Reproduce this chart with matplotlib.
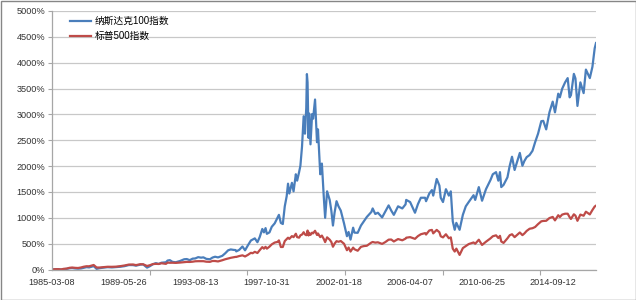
import pandas as pd
import matplotlib
matplotlib.use('Agg')
import matplotlib.pyplot as plt
from matplotlib.patches import Rectangle

plt.rcParams['font.family'] = ['Liberation Sans', 'Noto Sans CJK SC', 'DejaVu Sans']

# ─── 数据 (从图上读取, 累计涨幅 %) ─────────────────────────────────────
dates = [
    '1985-03-08', '1985-05-17', '1985-07-19', '1985-09-20', '1985-11-15',
    '1986-01-17', '1986-03-21', '1986-05-16', '1986-07-18', '1986-09-19', '1986-11-21',
    '1987-01-16', '1987-03-20', '1987-05-15', '1987-08-21', '1987-10-23', '1987-12-18',
    '1988-03-18', '1988-06-17', '1988-09-16', '1988-12-16',
    '1989-03-17', '1989-06-16', '1989-09-15', '1989-12-15',
    '1990-02-16', '1990-05-18', '1990-07-20', '1990-10-12', '1990-12-14',
    '1991-02-15', '1991-04-19', '1991-06-21', '1991-08-16', '1991-11-22', '1991-12-27',
    '1992-02-14', '1992-04-10', '1992-06-19', '1992-09-18', '1992-12-18',
    '1993-02-12', '1993-04-16', '1993-06-18', '1993-08-13', '1993-10-15', '1993-12-17',
    '1994-02-04', '1994-04-08', '1994-06-24', '1994-08-19', '1994-10-14', '1994-12-16',
    '1995-03-17', '1995-05-19', '1995-07-21', '1995-09-15', '1995-11-17', '1995-12-29',
    '1996-01-12', '1996-03-15', '1996-05-24', '1996-07-19', '1996-09-20', '1996-11-22', '1996-12-27',
    '1997-02-14', '1997-04-11', '1997-05-30', '1997-07-25', '1997-08-29', '1997-10-03', '1997-10-31', '1997-12-26',
    '1998-02-13', '1998-04-17', '1998-06-19', '1998-07-17', '1998-08-28', '1998-10-09', '1998-11-20', '1998-12-31',
    '1999-01-29', '1999-02-26', '1999-04-23', '1999-05-28', '1999-07-16', '1999-08-13', '1999-09-24',
    '1999-10-22', '1999-11-26', '1999-12-31',
    '2000-01-28', '2000-02-25', '2000-03-10', '2000-03-24', '2000-04-14', '2000-04-28', '2000-05-26',
    '2000-06-30', '2000-07-21', '2000-09-01', '2000-10-13', '2000-11-03', '2000-12-22',
    '2001-01-26', '2001-03-09', '2001-04-06', '2001-05-18', '2001-07-13', '2001-08-17', '2001-09-21',
    '2001-10-26', '2001-12-07',
    '2002-01-18', '2002-03-08', '2002-05-17', '2002-07-19', '2002-08-23', '2002-10-04', '2002-11-29', '2002-12-27',
    '2003-03-07', '2003-05-16', '2003-07-18', '2003-09-19', '2003-12-26',
    '2004-01-23', '2004-03-19', '2004-05-14', '2004-08-13', '2004-10-22', '2004-12-31',
    '2005-02-25', '2005-04-22', '2005-07-22', '2005-10-21', '2005-12-30',
    '2006-01-13', '2006-04-07', '2006-07-21', '2006-09-22', '2006-11-24',
    '2007-02-23', '2007-03-16', '2007-05-25', '2007-07-20', '2007-08-17', '2007-10-31', '2007-12-28',
    '2008-01-25', '2008-03-14', '2008-05-16', '2008-07-18', '2008-08-29', '2008-10-10', '2008-11-21', '2008-12-26',
    '2009-03-06', '2009-05-15', '2009-07-17', '2009-09-18', '2009-12-31',
    '2010-02-05', '2010-04-23', '2010-07-02', '2010-09-24', '2010-12-31',
    '2011-02-18', '2011-04-29', '2011-06-17', '2011-07-22', '2011-08-19', '2011-10-07', '2011-12-30',
    '2012-02-17', '2012-04-06', '2012-06-01', '2012-09-21', '2012-11-16', '2012-12-28',
    '2013-02-15', '2013-04-19', '2013-06-21', '2013-08-16', '2013-10-18', '2013-12-27',
    '2014-02-07', '2014-04-11', '2014-06-20', '2014-08-29', '2014-10-17', '2014-12-26',
    '2015-01-30', '2015-03-20', '2015-05-22', '2015-07-17', '2015-08-28', '2015-09-25', '2015-11-27', '2015-12-31',
    '2016-02-12', '2016-04-15', '2016-06-24', '2016-08-12', '2016-11-04', '2016-12-30',
    '2017-02-17', '2017-03-17',
]

ndx_pct = [
    0, 3, 7, -2, 6,
    12, 24, 28, 20, 16, 20,
    32, 45, 40, 65, 12, 24,
    36, 45, 40, 46,
    53, 65, 86, 85,
    74, 94, 98, 36, 65,
    102, 123, 107, 131, 140, 173,
    181, 148, 140, 164, 198,
    202, 181, 210, 214, 239, 229,
    235, 206, 198, 231, 247, 234,
    264, 313, 371, 388, 379, 376,
    350, 379, 445, 371, 470, 561, 579,
    602, 528, 627, 784, 718, 801, 690, 718,
    826, 892, 1007, 1057, 900, 880, 1222, 1417,
    1660, 1470, 1677, 1512, 1842, 1718, 1883,
    2007, 2379, 2964,
    2627, 3123, 3780, 3619, 2545, 3016, 2421,
    3007, 2917, 3288, 2462, 2710, 1842,
    2049, 1388, 1000, 1512, 1346, 1140, 850,
    1100, 1321,
    1222, 1140, 892, 644, 726, 578, 809, 713,
    710, 850, 933, 1016, 1113,
    1181, 1074, 1098, 1007, 1123, 1240,
    1140, 1057, 1222, 1181, 1260,
    1346, 1305, 1098, 1264, 1388,
    1388, 1321, 1470, 1536, 1429, 1751, 1623,
    1388, 1305, 1553, 1429, 1512, 933, 768, 902,
    768, 1057, 1222, 1305, 1437,
    1346, 1594, 1330, 1553, 1733,
    1842, 1883, 1718, 1883, 1594, 1636, 1783,
    2007, 2181, 1925, 2255, 2007, 2099,
    2173, 2214, 2297, 2462, 2627, 2869,
    2875, 2710, 3040, 3247, 3040, 3401,
    3330, 3495, 3619, 3702, 3330, 3371, 3784, 3696,
    3164, 3619, 3412, 3867, 3702, 3920,
    4280, 4380,
]

spx_pct = [
    0, 6, 7, 2, 13,
    18, 33, 38, 32, 29, 39,
    53, 63, 62, 87, 39, 38,
    46, 53, 52, 55,
    65, 78, 95, 97,
    85, 102, 101, 68, 84,
    105, 109, 107, 121, 109, 133,
    130, 131, 128, 134, 143,
    147, 146, 151, 159, 161, 160,
    161, 151, 148, 165, 164, 156,
    179, 198, 214, 226, 238, 244,
    243, 260, 274, 252, 284, 323, 314,
    342, 319, 374, 433, 403, 439, 403, 442,
    486, 521, 534, 563, 435, 436, 550, 587,
    615, 592, 646, 626, 692, 626, 616,
    661, 676, 721,
    679, 663, 679, 753, 658, 711, 670,
    713, 699, 749, 668, 697, 626,
    656, 589, 530, 622, 577, 533, 440,
    500, 548,
    537, 551, 498, 373, 425, 347, 423, 392,
    363, 438, 453, 459, 521,
    532, 520, 526, 495, 531, 577,
    580, 542, 589, 565, 597,
    615, 626, 593, 646, 682,
    704, 676, 755, 766, 699, 766, 720,
    643, 621, 682, 604, 621, 403, 347, 404,
    282, 414, 453, 492, 523,
    498, 576, 475, 537, 603,
    643, 661, 609, 651, 542, 514, 603,
    663, 682, 626, 716, 665, 697,
    746, 788, 799, 822, 878, 932,
    939, 942, 995, 1017, 950, 1050,
    1015, 1062, 1079, 1079, 1012, 978, 1068, 1042,
    942, 1062, 1040, 1118, 1065, 1151,
    1218, 1235,
]

series_names = ['纳斯达克100指数', '标普500指数']
series_colors = ['#4a7ebb', '#be4b48']
y_ticks = list(range(0, 5001, 500))

# ─── 作图 ────────────────────────────────────────────────────────────────
x = pd.to_datetime(dates)
start = pd.Timestamp('1985-03-08')

fig = plt.figure(figsize=(6.36, 3.0), dpi=100)
ax = fig.add_axes([52 / 636, 1 - 269.5 / 300, (596 - 52) / 636, (269.5 - 11) / 300])

ax.plot(x, ndx_pct, color=series_colors[0], lw=1.6, label=series_names[0])
ax.plot(x, spx_pct, color=series_colors[1], lw=1.6, label=series_names[1])

ax.set_ylim(0, 5000)
ax.set_xlim(start, x[-1])
ax.set_yticks(y_ticks)
ax.set_yticklabels([f'{v}%' for v in y_ticks])

lab_pos = [start + pd.Timedelta(weeks=220 * k) for k in range(8)]
tick_pos = [start + pd.Timedelta(weeks=300 * k) for k in range(6)]
ax.set_xticks(lab_pos)
ax.set_xticklabels([d.strftime('%Y-%m-%d') for d in lab_pos])
ax.set_xticks(tick_pos, minor=True)
ax.tick_params(axis='x', which='major', length=0, pad=6, labelsize=6.6, labelcolor='#333333')
ax.tick_params(axis='x', which='minor', length=3.5, width=0.8, color='#a6a6a6', direction='out')
ax.tick_params(axis='y', length=3, width=0.8, color='#a6a6a6', pad=2, labelsize=6.6, labelcolor='#333333')

ax.grid(axis='y', color='#c8c8c8', lw=0.9)
ax.set_axisbelow(True)
for s in ['top', 'right']:
    ax.spines[s].set_visible(False)
for s in ['left', 'bottom']:
    ax.spines[s].set_color('#a6a6a6')
    ax.spines[s].set_linewidth(0.9)

ax.legend(loc='upper left', bbox_to_anchor=(70 / 636, 1 - 16 / 300), bbox_transform=fig.transFigure,
          frameon=False, fontsize=7, handlelength=2.2, handletextpad=0.3, labelspacing=0.55,
          borderaxespad=0, borderpad=0)

fig.patches.append(Rectangle((0.5 / 636, 0.5 / 300), 635 / 636, 299 / 300, transform=fig.transFigure,
                             fill=False, edgecolor='#868686', lw=1.0))

fig.savefig('out.png', dpi=100, facecolor='white')
